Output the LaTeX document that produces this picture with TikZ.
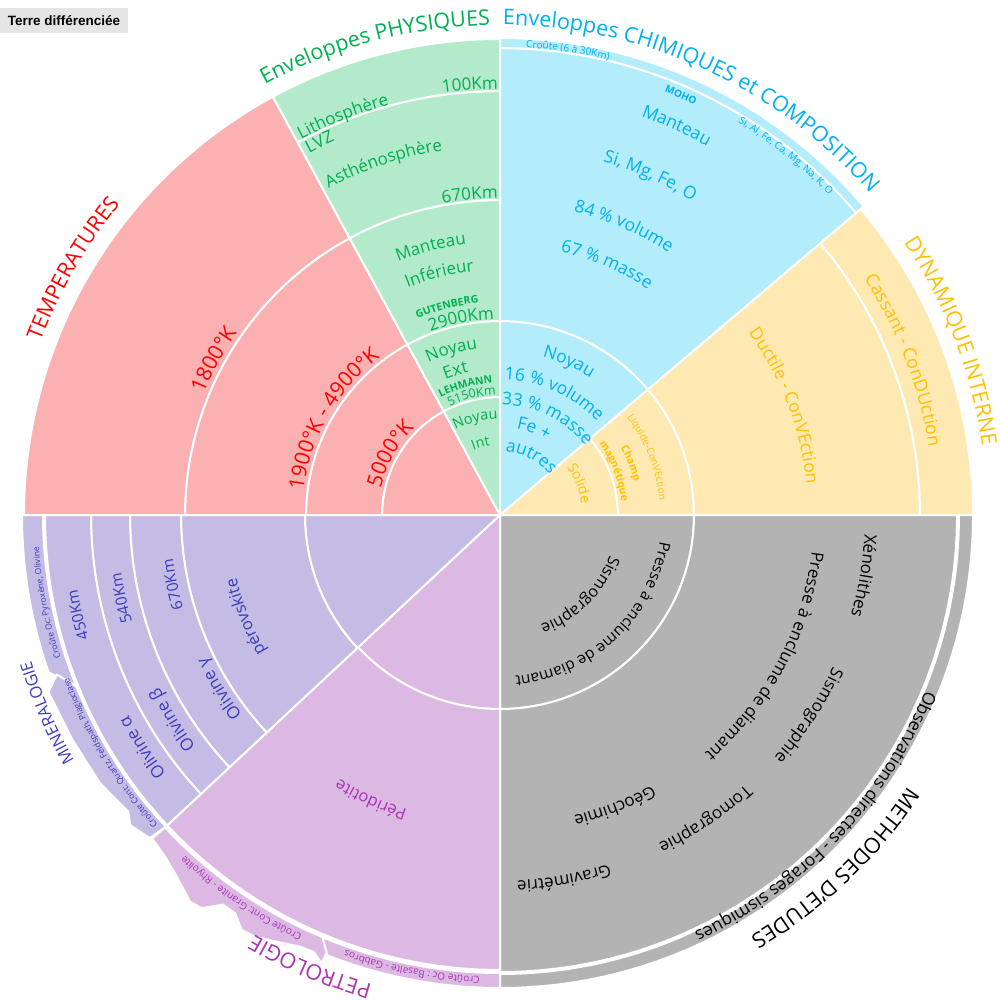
\documentclass[tikz,border=0pt]{standalone}
\usepackage{fontspec}
\setmainfont{Open Sans}
\newfontfamily\tagfont{Liberation Sans}
\usepackage{tikz}
\usetikzlibrary{decorations.text}

\definecolor{tempfill}{RGB}{251,177,177}
\definecolor{temptext}{RGB}{255,0,0}
\definecolor{physfill}{RGB}{179,234,203}
\definecolor{phystext}{RGB}{0,176,80}
\definecolor{chemfill}{RGB}{179,236,251}
\definecolor{chemtext}{RGB}{0,176,240}
\definecolor{dynfill}{RGB}{255,233,179}
\definecolor{dyntext}{RGB}{255,192,0}
\definecolor{methfill}{RGB}{179,179,179}
\definecolor{minfill}{RGB}{196,188,228}
\definecolor{mintext}{RGB}{59,59,190}
\definecolor{petrofill}{RGB}{220,185,227}
\definecolor{petrotext}{RGB}{170,50,180}

\newcommand{\fs}[1]{\fontsize{#1}{#1}\selectfont}

\tikzset{
  cellline/.style={draw=white, line width=2pt, line join=round},
  tagbox/.style={fill=black!10, inner sep=0pt, minimum width=128pt,
    minimum height=25pt, font=\tagfont\bfseries\fs{13.5}},
}

% ring segment: colour, first angle, second angle, inner radius, outer radius
\newcommand{\ringcell}[5]{%
  \filldraw[cellline, fill=#1] (#2:#4) arc[start angle=#2, end angle=#3, radius=#4pt]
    -- (#3:#5) arc[start angle=#3, end angle=#2, radius=#5pt] -- cycle;}
% wedge from the centre: colour, first angle, second angle, radius
\newcommand{\corecell}[4]{%
  \filldraw[cellline, fill=#1] (0,0) -- (#2:#4)
    arc[start angle=#2, end angle=#3, radius=#4pt] -- cycle;}
% text bent clockwise round the centre: colour, font, baseline radius, mid angle, text
\newcommand{\ringtext}[5]{%
  \path[decorate, decoration={text along path, text align=center, text color=#1,
      text={|#2|#5}}]
    (#4+80:#3) arc[start angle=#4+80, end angle=#4-80, radius=#3pt];}

\begin{document}
\begin{tikzpicture}[x=1pt, y=1pt]

    \useasboundingbox (-500,-486) rectangle (499,515);

    % Temperatures
    \corecell{tempfill}{118.5}{180}{118}
    \ringcell{tempfill}{118.5}{180}{118}{194}
    \ringcell{tempfill}{118.5}{180}{194}{315}
    \ringcell{tempfill}{118.5}{180}{315}{476}

    % Physical layers
    \corecell{physfill}{90}{118.5}{118}
    \ringcell{physfill}{90}{118.5}{118}{194}
    \ringcell{physfill}{90}{118.5}{194}{315}
    \ringcell{physfill}{90}{118.5}{315}{424}
    \ringcell{physfill}{90}{118.5}{424}{476}

    % Chemical layers
    \corecell{chemfill}{40.3}{90}{194}
    \ringcell{chemfill}{40.3}{90}{194}{467}
    \ringcell{chemfill}{40.3}{90}{467}{477}

    % Internal dynamics
    \corecell{dynfill}{0}{40.3}{118}
    \ringcell{dynfill}{0}{40.3}{118}{194}
    \ringcell{dynfill}{0}{40.3}{194}{420}
    \ringcell{dynfill}{0}{40.3}{420}{473}

    % Methods
    \corecell{methfill}{-90}{0}{194}
    \ringcell{methfill}{-90}{0}{194}{457}
    \ringcell{methfill}{-90}{0}{459}{473}

    % Petrology
    \corecell{petrofill}{223}{270}{194}
    \ringcell{petrofill}{223}{270}{194}{455}
    % continental crust, ragged edge
    \filldraw[cellline, fill=petrofill] (223:458) -- (222.9:475) -- (225.6:478.5)
      -- (228.2:485) -- (231.3:495.6) -- (232.8:493.6) -- (234.6:478) -- (236.4:478.4)
      -- (238.1:488.8) -- (239.8:487.7) -- (242.4:481.6) -- (245.1:475.8)
      -- (246.9:475) -- (248.3:482.5) -- (248.4:470) -- (247.2:458)
      arc[start angle=247.2, end angle=223, radius=458pt] -- cycle;
    % oceanic crust
    \filldraw[cellline, fill=petrofill] (247.2:458) -- (248.6:473)
      arc[start angle=248.6, end angle=270, radius=473pt] -- (270:458)
      arc[start angle=270, end angle=247.2, radius=458pt] -- cycle;

    % Mineralogy
    \corecell{minfill}{180}{223}{195}
    \ringcell{minfill}{180}{223}{195}{319}
    \ringcell{minfill}{180}{223}{319}{370}
    \ringcell{minfill}{180}{223}{370}{409}
    \ringcell{minfill}{180}{223}{409}{455}
    % oceanic crust
    \filldraw[cellline, fill=minfill] (180:457) -- (180:478)
      arc[start angle=180, end angle=199.2, radius=478pt] -- (202:457)
      arc[start angle=202, end angle=180, radius=457pt] -- cycle;
    % continental crust, ragged edge
    \filldraw[cellline, fill=minfill] (202:457) -- (199.8:471) -- (201.4:485)
      -- (207.8:483) -- (213.8:481.6) -- (218.6:475.6) -- (220:482.7)
      -- (222.7:476.5) -- (223:457)
      arc[start angle=223, end angle=202, radius=457pt] -- cycle;

    % Outer titles
    \ringtext{phystext}{\fs{21.5}}{490}{104.9}{Enveloppes PHYSIQUES}
    \ringtext{chemtext}{\fs{21.5}}{490}{65.3}{Enveloppes CHIMIQUES et COMPOSITION}
    \ringtext{dyntext}{\fs{21.5}}{487}{21.1}{DYNAMIQUE INTERNE}
    \ringtext{black}{\fs{21.5}}{490}{-46.5}{METHODES D'ETUDES}
    \ringtext{petrotext}{\fs{21.5}}{486}{247.2}{PETROLOGIE}
    \ringtext{mintext}{\fs{16.5}}{491}{203.6}{MINERALOGIE}
    \ringtext{temptext}{\fs{21.5}}{491}{150}{TEMPERATURES}

    % Temperature labels
    \ringtext{temptext}{\fs{21}}{320}{151.5}{1800°K}
    \ringtext{temptext}{\fs{21}}{198}{150}{1900°K - 4900°K}
    \ringtext{temptext}{\fs{21}}{122}{151}{5000°K}

    % Physical layer labels
    \ringtext{phystext}{\fs{17}}{426}{94}{100Km}
    \ringtext{phystext}{\fs{17}}{425}{111.5}{Lithosphère}
    \ringtext{phystext}{\fs{17}}{409}{115.8}{LVZ}
    \ringtext{phystext}{\fs{17}}{369}{108.3}{Asthénosphère}
    \ringtext{phystext}{\fs{17}}{317}{95.4}{670Km}
    \ringtext{phystext}{\fs{17}}{273}{104.5}{Manteau}
    \ringtext{phystext}{\fs{17}}{245}{104.1}{Inférieur}
    \ringtext{phystext}{\fs{10.5}\bfseries}{213}{104.3}{GUTENBERG}
    \ringtext{phystext}{\fs{17}}{196}{101.2}{2900Km}
    \ringtext{phystext}{\fs{17}}{168}{106.4}{Noyau}
    \ringtext{phystext}{\fs{17}}{146}{107.2}{Ext}
    \ringtext{phystext}{\fs{10.5}\bfseries}{132}{105}{LEHMANN}
    \ringtext{phystext}{\fs{12.5}}{120}{103.4}{5150Km}
    \ringtext{phystext}{\fs{14.5}}{96}{104.5}{Noyau}
    \ringtext{phystext}{\fs{14}}{70}{105.2}{Int}

    % Chemical layer labels
    \ringtext{chemtext}{\fs{10}}{468}{81.7}{Croûte (6 à 30Km)}
    \ringtext{chemtext}{\fs{10}\bfseries}{454}{66.7}{MOHO}
    \ringtext{chemtext}{\fs{10}}{459}{51.5}{Si, Al, Fe, Ca, Mg, Na, K, O}
    \ringtext{chemtext}{\fs{17.5}}{423}{65.6}{Manteau}
    \ringtext{chemtext}{\fs{17.5}}{368}{66.1}{Si, Mg, Fe, O}
    \ringtext{chemtext}{\fs{17.5}}{312}{66.8}{84 {\%} volume}
    \ringtext{chemtext}{\fs{17.5}}{270}{66.9}{67 {\%} masse}
    \ringtext{chemtext}{\fs{17.5}}{164}{65.8}{Noyau}
    \ringtext{chemtext}{\fs{17.5}}{135}{66}{16 {\%} volume}
    \ringtext{chemtext}{\fs{17.5}}{110}{64}{33 {\%} masse}
    \ringtext{chemtext}{\fs{17.5}}{88}{68.5}{Fe  +}
    \ringtext{chemtext}{\fs{17.5}}{64}{62}{autres}

    % Dynamics labels
    \ringtext{dyntext}{\fs{14}}{82}{21.6}{Solide}
    \ringtext{dyntext}{\fs{10.5}\bfseries}{138}{21.5}{Champ}
    \ringtext{dyntext}{\fs{10.5}\bfseries}{122}{21}{magnétique}
    \ringtext{dyntext}{\fs{10}}{160}{21.4}{Liquide-ConVEction}
    \ringtext{dyntext}{\fs{17.5}}{308}{21}{Ductile - ConVEction}
    \ringtext{dyntext}{\fs{18}}{434}{21}{Cassant - ConDUction}

    % Methods labels
    \ringtext{black}{\fs{16}}{117}{-45}{Sismographie}
    \ringtext{black}{\fs{15.5}}{162}{-47}{Presse à enclume de diamant}
    \ringtext{black}{\fs{17}}{365}{-9.5}{Xénolithes}
    \ringtext{black}{\fs{17}}{314}{-28}{Presse à enclume de diamant}
    \ringtext{black}{\fs{17}}{366}{-33}{Sismographie}
    \ringtext{black}{\fs{17}}{365}{-56}{Tomographie}
    \ringtext{black}{\fs{17}}{310}{-68.5}{Géochimie}
    \ringtext{black}{\fs{17}}{366}{-80}{Gravimétrie}
    \ringtext{black}{\fs{17.5}}{460}{-43.7}{Observations directes  -  Forages sismiques}

    % Petrology labels
    \ringtext{petrotext}{\fs{16.5}}{309}{245.6}{Péridotite}
    \ringtext{petrotext}{\fs{10}}{464}{236}{Croûte Cont: Granite - Rhyolite}
    \ringtext{petrotext}{\fs{10}}{462}{259}{Croûte Oc :  Basalte - Gabbros}

    % Mineralogy labels
    \ringtext{mintext}{\fs{8.5}}{462}{191}{Croûte Oc: Pyroxène, Olivine}
    \ringtext{mintext}{\fs{8.6}}{461}{211.4}{Croûte Cont: Quartz, Feldspath, Plagioclase}
    \ringtext{mintext}{\fs{15.5}}{429}{193.3}{450Km}
    \ringtext{mintext}{\fs{15.5}}{383}{192.4}{540Km}
    \ringtext{mintext}{\fs{15.5}}{330}{192}{670Km}
    \ringtext{mintext}{\fs{16.5}}{271}{201.8}{pérovskite}
    \ringtext{mintext}{\fs{17}}{422}{213}{Olivine  α}
    \ringtext{mintext}{\fs{17}}{382}{212}{Olivine β}
    \ringtext{mintext}{\fs{17}}{326}{211.8}{Olivine γ}

    % Title tag
    \node[tagbox] (tag) at (-436,494.5) {Terre différenciée};

\end{tikzpicture}
\end{document}
